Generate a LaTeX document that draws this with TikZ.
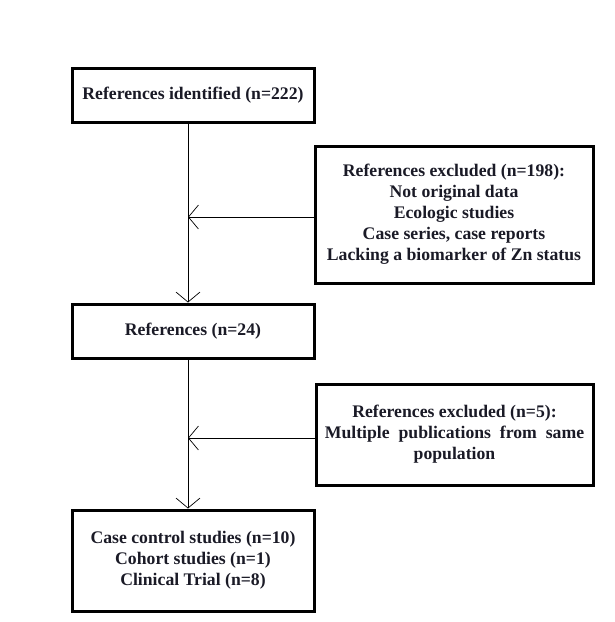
\documentclass[tikz,border=0pt]{standalone}
\usepackage{fontspec}
\setmainfont{Liberation Serif}
\usetikzlibrary{arrows.meta}
\definecolor{txt}{HTML}{1A1A26}
\begin{document}
\begin{tikzpicture}[x=1pt,y=-1pt,
  box/.style={draw=black,line width=3pt,align=center,inner sep=0pt,text=txt,
    font=\fontsize{17.7}{21}\selectfont\bfseries},
  conn/.style={line width=0.9pt,-{Straight Barb[length=10pt,width=24pt,line width=0.7pt]}}]
\useasboundingbox (0,0) rectangle (614,622);
\node[box,minimum width=242pt,minimum height=54pt] (b1) at (193,95) {References identified (n=222)};
\node[box,minimum width=278pt,minimum height=137pt] (b2) at (454,214.5) {References excluded (n=198):\\Not original data\\Ecologic studies\\Case series, case reports\\Lacking a biomarker of Zn status};
\node[box,minimum width=242pt,minimum height=54pt] (b3) at (193,331) {References (n=24)};
\node[box,minimum width=277pt,minimum height=101pt] (b4) at (454.5,434.5) {References excluded (n=5):\\Multiple\ \ publications\ \ from\ \ same\\population};
\node[box,minimum width=242pt,minimum height=101pt] (b5) at (193,560.5) {Case control studies (n=10)\\Cohort studies (n=1)\\Clinical Trial (n=8)};
\coordinate (j1) at (188,217);
\coordinate (j2) at (188,438);
\draw[conn] (188,122) -- (188,302.5);
\draw[conn] (188,358) -- (188,508.5);
\draw[conn] (b2.west |- j1) -- (j1);
\draw[conn] (b4.west |- j2) -- (j2);
\end{tikzpicture}
\end{document}
